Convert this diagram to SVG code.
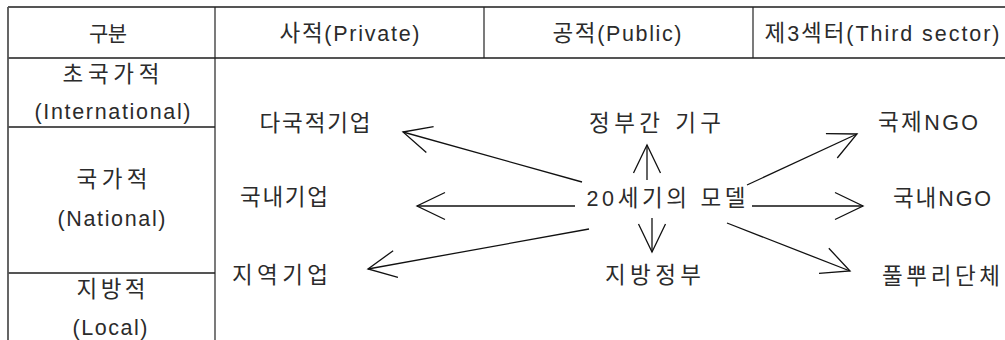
<svg xmlns="http://www.w3.org/2000/svg" width="1005" height="340" viewBox="0 0 1005 340">
<style>
  text { font-family: "Liberation Sans", "Noto Sans CJK KR", sans-serif; font-size: 21.5px; fill: #2b2b2b; text-anchor: middle; }
  .k { font-size: 22.5px; }
  .gridh { stroke: #555; stroke-width: 1.8; fill: none; }
  .gridv { stroke: #222; stroke-width: 1.2; fill: none; }
  .conn { stroke: #111; stroke-width: 1.3; fill: none; marker-end: url(#ah); }
</style>
<defs>
  <marker id="ah" markerUnits="userSpaceOnUse" viewBox="-30 -20 40 40" markerWidth="40" markerHeight="40" refX="0" refY="0" orient="auto" overflow="visible">
    <path d="M-28,-13.5 L0,0 L-28,13.5" fill="none" stroke="#111" stroke-width="1.3"/>
  </marker>
</defs>
<rect width="1005" height="340" fill="#fff"/>
<g id="table">
  <line class="gridh" x1="8" y1="7" x2="1005" y2="7"/>
  <line class="gridh" x1="8" y1="58" x2="1005" y2="58"/>
  <line class="gridh" x1="8" y1="127" x2="215" y2="127"/>
  <line class="gridh" x1="8" y1="273" x2="215" y2="273"/>
  <line class="gridh" x1="8" y1="7" x2="8" y2="340"/>
  <line class="gridv" x1="215" y1="7" x2="215" y2="340"/>
  <line class="gridv" x1="484" y1="7" x2="484" y2="58"/>
  <line class="gridv" x1="753" y1="7" x2="753" y2="58"/>
</g>
<g id="header">
  <text x="108" y="41" style="font-size:21px" textLength="38" lengthAdjust="spacing">구분</text>
  <text x="349.5" y="41" textLength="140" lengthAdjust="spacing"><tspan class="k">사적</tspan>(Private)</text>
  <text x="617" y="41" textLength="129" lengthAdjust="spacing"><tspan class="k">공적</tspan>(Public)</text>
  <text x="882" y="41" textLength="235" lengthAdjust="spacing"><tspan class="k">제</tspan>3<tspan class="k">섹터</tspan>(Third sector)</text>
</g>
<g id="row-international">
  <text x="111" y="82" class="k" textLength="97" lengthAdjust="spacing">초국가적</text>
  <text x="112.5" y="119" textLength="156" lengthAdjust="spacing">(International)</text>
</g>
<g id="row-national">
  <text x="112" y="187" class="k" textLength="71" lengthAdjust="spacing">국가적</text>
  <text x="111.5" y="226" textLength="108" lengthAdjust="spacing">(National)</text>
</g>
<g id="row-local">
  <text x="111" y="297" class="k" textLength="69" lengthAdjust="spacing">지방적</text>
  <text x="110" y="335" textLength="75" lengthAdjust="spacing">(Local)</text>
</g>
<g id="node-multinational"><text x="315" y="131" class="k" textLength="111" lengthAdjust="spacing">다국적기업</text></g>
<g id="node-domestic-firm"><text x="284" y="205" class="k" textLength="88" lengthAdjust="spacing">국내기업</text></g>
<g id="node-local-firm"><text x="280" y="283" class="k" textLength="96" lengthAdjust="spacing">지역기업</text></g>
<g id="node-igo"><text x="655" y="131" class="k" textLength="132" lengthAdjust="spacing">정부간 기구</text></g>
<g id="node-model"><text x="666" y="206" textLength="159" lengthAdjust="spacing">20<tspan class="k">세기의 모델</tspan></text></g>
<g id="node-local-gov"><text x="653" y="283" class="k" textLength="96" lengthAdjust="spacing">지방정부</text></g>
<g id="node-intl-ngo"><text x="928" y="130" textLength="100" lengthAdjust="spacing"><tspan class="k">국제</tspan>NGO</text></g>
<g id="node-dom-ngo"><text x="942" y="206" textLength="98" lengthAdjust="spacing"><tspan class="k">국내</tspan>NGO</text></g>
<g id="node-grassroots"><text x="941" y="284" class="k" textLength="118" lengthAdjust="spacing">풀뿌리단체</text></g>
<g id="connectors">
  <line class="conn" x1="582" y1="182" x2="403" y2="132"/>
  <line class="conn" x1="575" y1="206" x2="417" y2="206"/>
  <line class="conn" x1="589" y1="229" x2="368" y2="269"/>
  <line class="conn" x1="647" y1="180" x2="647" y2="145"/>
  <line class="conn" x1="652" y1="218" x2="652" y2="252"/>
  <line class="conn" x1="747" y1="185" x2="857" y2="134"/>
  <line class="conn" x1="752" y1="206" x2="863" y2="206"/>
  <line class="conn" x1="727" y1="223" x2="850" y2="271"/>
</g>
</svg>
